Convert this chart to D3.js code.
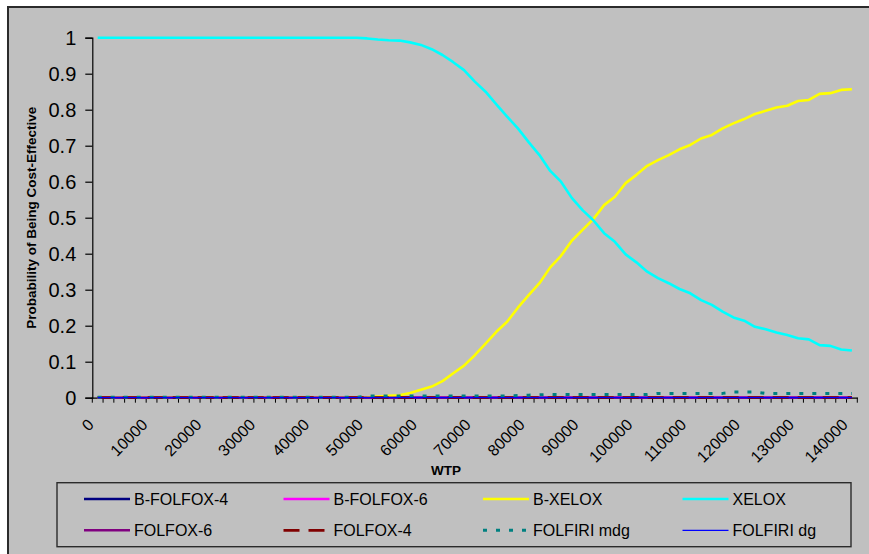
<!DOCTYPE html>
<html>
<head>
<meta charset="utf-8">
<script src="https://cdn.jsdelivr.net/npm/d3@7"></script>
<style>
  html, body { margin: 0; padding: 0; background: #ffffff; }
  svg { display: block; }
  text { font-family: "Liberation Sans", Arial, sans-serif; fill: #000; }
</style>
</head>
<body>
<svg id="chart" width="869" height="554"></svg>
<script>
// ---------------- DATA ----------------
const categories = [0,2000,4000,6000,8000,10000,12000,14000,16000,18000,20000,22000,24000,26000,28000,30000,32000,34000,36000,38000,40000,42000,44000,46000,48000,50000,52000,54000,56000,58000,60000,62000,64000,66000,68000,70000,72000,74000,76000,78000,80000,82000,84000,86000,88000,90000,92000,94000,96000,98000,100000,102000,104000,106000,108000,110000,112000,114000,116000,118000,120000,122000,124000,126000,128000,130000,132000,134000,136000,138000,140000];

const seriesNames = ["B-FOLFOX-4","B-FOLFOX-6","B-XELOX","XELOX","FOLFOX-6","FOLFOX-4","FOLFIRI mdg","FOLFIRI dg"];

const bFolfox4 = [0,0,0,0,0,0,0,0,0,0,0,0,0,0,0,0,0,0,0,0,0,0,0,0,0,0,0,0,0,0,0,0,0,0,0,0,0,0,0,0,0,0,0,0,0,0,0,0,0,0,0,0,0,0,0,0,0,0,0,0,0,0,0,0,0,0,0,0,0,0,0];
const bFolfox6 = [0,0,0,0,0,0,0,0,0,0,0,0,0,0,0,0,0,0,0,0,0,0,0,0,0,0,0,0,0,0,0,0,0,0,0,0,0,0,0,0,0,0,0,0,0,0,0,0,0,0,0,0,0,0,0,0,0,0,0,0,0,0,0,0,0,0,0,0,0,0,0];
const bXelox = [0,0,0,0,0,0,0,0,0,0,0,0,0,0,0,0,0,0,0,0,0,0,0,0,0,
  0.001,0.003,0.005,0.007,0.013,0.022,0.031,0.046,0.068,0.089,0.118,0.15,0.183,0.211,0.25,
  0.285,0.318,0.362,0.394,0.436,0.466,0.496,0.535,0.558,0.596,0.619,0.644,0.66,0.674,0.69,
  0.702,0.72,0.73,0.748,0.762,0.774,0.788,0.797,0.806,0.811,0.824,0.827,0.844,0.846,0.855,0.857];
const xelox = [1,1,1,1,1,1,1,1,1,1,1,1,1,1,1,1,1,1,1,1,1,1,1,1,1,
  0.998,0.995,0.993,0.992,0.987,0.98,0.968,0.952,0.932,0.91,0.878,0.85,0.815,0.781,0.748,
  0.71,0.674,0.63,0.6,0.555,0.521,0.493,0.457,0.433,0.398,0.376,0.35,0.332,0.318,0.302,
  0.29,0.271,0.258,0.239,0.223,0.214,0.197,0.19,0.181,0.174,0.165,0.162,0.146,0.144,0.134,0.131];
const folfox6 = [0,0,0,0,0,0,0,0,0,0,0,0,0,0,0,0,0,0,0,0,0,0,0,0,0,0,0,0,0,0,0,0,0,0,0,0,0,0,0,0,0,0,0,0,0,0,0,0,0,0,0,0,0,0,0,0,0,0,0,0,0,0,0,0,0,0,0,0,0,0,0];
const folfox4 = [0,0,0,0,0,0,0,0,0,0,0,0,0,0,0,0,0,0,0,0,0,0,0,0,0,0,0,0,0,0,0,0,0,0,0,0,0,0,0,0,0,0,0,0,0,0,0,0,0,0,0,0,0,0,0,0,0,0,0,0,0,0,0,0,0,0,0,0,0,0,0];
const folfiriMdg = [0.001,0.001,0.001,0.001,0.001,0.001,0.001,0.001,0.001,0.001,0.001,0.001,0.001,0.001,0.001,0.001,0.001,0.001,0.001,0.001,0.001,0.001,0.001,0.001,0.001,
  0.005,0.005,0.005,0.005,0.005,0.005,0.005,0.005,0.005,0.005,0.005,0.005,0.005,0.005,0.006,
  0.007,0.008,0.009,0.009,0.009,0.009,0.009,0.009,0.009,0.009,0.009,0.009,0.012,0.012,0.012,
  0.012,0.012,0.012,0.012,0.016,0.016,0.016,0.012,0.012,0.012,0.012,0.012,0.012,0.012,0.012,0.012];
const folfiriDg = [0,0,0,0,0,0,0,0,0,0,0,0,0,0,0,0,0,0,0,0,0,0,0,0,0,0,0,0,0,0,0,0,0,0,0,0,0,0,0,0,0,0,0,0,0,0,0,0,0,0,0,0,0,0,0,0,0,0,0,0,0,0,0,0,0,0,0,0,0,0,0];

const yTicks = [0,0.1,0.2,0.3,0.4,0.5,0.6,0.7,0.8,0.9,1];
const xTickLabels = [0,10000,20000,30000,40000,50000,60000,70000,80000,90000,100000,110000,120000,130000,140000];

// ---------------- STYLES ----------------
const seriesValues = [bFolfox4,bFolfox6,bXelox,xelox,folfox6,folfox4,folfiriMdg,folfiriDg];
const seriesStyle = [
  {color:"#000080", width:2.5, dash:null},
  {color:"#FF00FF", width:2.5, dash:null},
  {color:"#FFFF00", width:2.6, dash:null},
  {color:"#00FFFF", width:2.6, dash:null},
  {color:"#800080", width:2.5, dash:null},
  {color:"#800000", width:2.8, dash:"16,9"},
  {color:"#008080", width:3,   dash:"4,9"},
  {color:"#0000FF", width:1.2, dash:null}
];

const svg = d3.select("#chart");
const W = 869, H = 554;

// chart area background + border
svg.append("rect").attr("x",0).attr("y",0).attr("width",W).attr("height",H).attr("fill","#ffffff");
svg.append("rect").attr("x",8).attr("y",7).attr("width",W+20).attr("height",H+20)
  .attr("fill","#C0C0C0").attr("stroke","#2b2b2b").attr("stroke-width",2);

const L = 92.3, R = 857.3, T = 37.7, B = 397.7;

const x = d3.scaleBand().domain(categories).range([L,R]).padding(0);
const bw = x.bandwidth();
const y = d3.scaleLinear().domain([0,1]).range([B,T]);
const cx = c => x(c) + bw/2;

// Y axis
const yAxis = d3.axisLeft(y).tickValues(yTicks).tickSize(7).tickPadding(9)
  .tickFormat(d => d3.format("~g")(d));
const gy = svg.append("g").attr("transform",`translate(${L},0)`).call(yAxis);
gy.select(".domain").attr("stroke","#000").attr("stroke-width",1.2);
gy.selectAll(".tick line").attr("stroke","#000").attr("stroke-width",1.2);
gy.selectAll(".tick text").attr("font-size",20).attr("font-family","'Liberation Sans', Arial, sans-serif").attr("fill","#000");

// X axis (domain line)
const xAxis = d3.axisBottom(x).tickSize(0).tickFormat("");
const gx = svg.append("g").attr("transform",`translate(0,${B})`).call(xAxis);
gx.select(".domain").attr("stroke","#000").attr("stroke-width",1.2);

// X tick marks at category boundaries
const boundaries = categories.map(c => x(c)).concat([x.range()[1]]);
svg.append("g").selectAll("line").data(boundaries).join("line")
  .attr("x1",d=>d).attr("x2",d=>d).attr("y1",B).attr("y2",B+5)
  .attr("stroke","#000").attr("stroke-width",1);

// X tick labels rotated
svg.append("g").selectAll("text").data(xTickLabels).join("text")
  .attr("transform", d => `translate(${cx(d)-3},${B+28}) rotate(-45)`)
  .attr("text-anchor","end")
  .attr("font-size",16)
  .text(d => d);

// Axis titles
svg.append("text").attr("transform",`translate(36,${(T+B)/2}) rotate(-90)`)
  .attr("text-anchor","middle").attr("font-size",13.5).attr("font-weight","bold")
  .text("Probability of Being Cost-Effective");
svg.append("text").attr("x",446).attr("y",475)
  .attr("text-anchor","middle").attr("font-size",13.5).attr("font-weight","bold")
  .text("WTP");

// Lines
const line = d3.line().x((d,i) => cx(categories[i])).y(d => y(d));
const gl = svg.append("g");
seriesValues.forEach((vals,k) => {
  const s = seriesStyle[k];
  gl.append("path").datum(vals).attr("d",line)
    .attr("fill","none").attr("stroke",s.color).attr("stroke-width",s.width)
    .attr("stroke-dasharray",s.dash).attr("stroke-linejoin","round");
});

// Legend
const lg = svg.append("g");
lg.append("rect").attr("x",57).attr("y",482.7).attr("width",794).attr("height",64)
  .attr("fill","#C0C0C0").attr("stroke","#2b2b2b").attr("stroke-width",1.4);
const colX = [84,283.5,483,682.5];
const rowY = [499,530.3];
seriesNames.forEach((name,k) => {
  const s = seriesStyle[k];
  const col = k % 4, row = Math.floor(k/4);
  const x0 = colX[col], yy = rowY[row];
  lg.append("line").attr("x1",x0).attr("x2",x0+46).attr("y1",yy).attr("y2",yy)
    .attr("stroke",s.color).attr("stroke-width",s.width).attr("stroke-dasharray",s.dash);
  lg.append("text").attr("x",x0+50).attr("y",yy+6).attr("font-size",16).text(name);
});
</script>
</body>
</html>
